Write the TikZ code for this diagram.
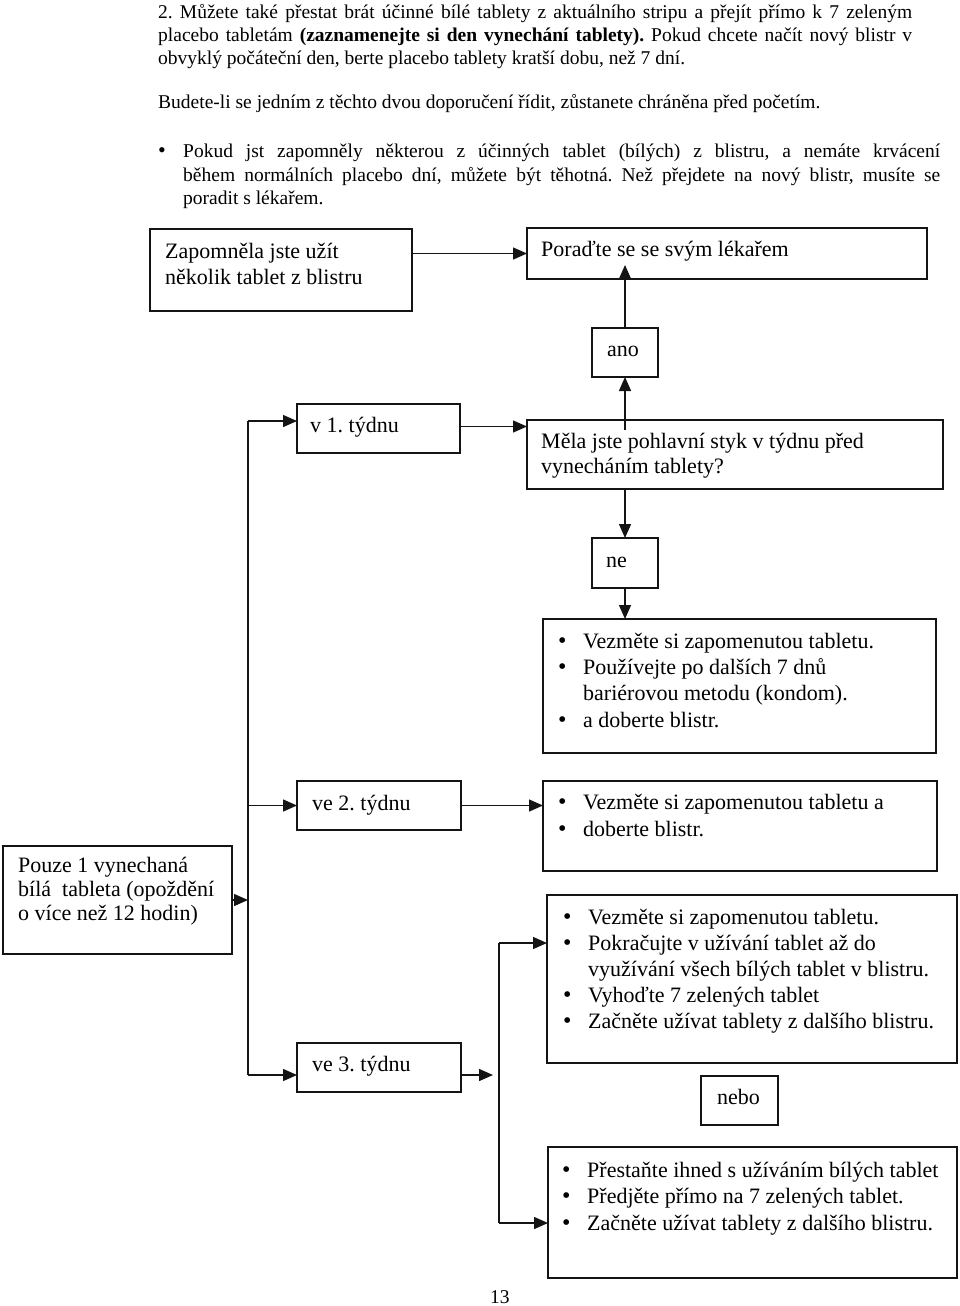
\documentclass[tikz,border=0pt]{standalone}
\usepackage{fontspec}
\setmainfont{Liberation Serif}
\usetikzlibrary{arrows.meta,calc}
\frenchspacing
\begin{document}
\begin{tikzpicture}[x=1pt,y=-1pt,
  frm/.style={draw=black!92, line width=1.8pt, anchor=north west, inner sep=0pt, outer sep=0pt},
  conn/.style={line width=1.4pt, draw=black!92},
  arr/.style={conn, -{Triangle[length=14pt,width=12pt]}},
  tx/.style={anchor=base west, inner sep=0pt, font=\fontsize{22}{26}\selectfont},
  toptx/.style={anchor=base west, inner sep=0pt, font=\fontsize{19.5}{23.5}\selectfont},
  bul/.style={anchor=base west, inner sep=0pt, font=\fontsize{24}{26}\selectfont},
]
\useasboundingbox (0,0) rectangle (960,1306);

% ---------- top text ----------
\node[toptx] (p1) at (158,19) {\hbox to 754pt{2. Můžete také přestat brát účinné bílé tablety z aktuálního stripu a přejít přímo k 7 zeleným}};
\node[toptx] (p2) at (158,42) {\hbox to 754pt{placebo tabletám \textbf{(zaznamenejte si den vynechání tablety).} Pokud chcete načít nový blistr v}};
\node[toptx] (p3) at (158,65) {obvyklý počáteční den, berte placebo tablety kratší dobu, než 7 dní.};
\node[toptx] (p4) at (158,108) {Budete-li se jedním z těchto dvou doporučení řídit, zůstanete chráněna před početím.};
\node[toptx, font=\fontsize{22}{23.5}\selectfont] (pb) at (158,157) {\textbullet};
\node[toptx] (p5) at (183,157) {\hbox to 757pt{Pokud jst zapomněly některou z~účinných tablet (bílých) z blistru, a nemáte krvácení}};
\node[toptx] (p6) at (183,181) {\hbox to 757pt{během normálních placebo dní, můžete být těhotná. Než přejdete na nový blistr, musíte se}};
\node[toptx] (p7) at (183,204) {poradit s lékařem.};

% ---------- boxes ----------
\node[frm, minimum width=262pt, minimum height=82pt] (zap) at (150,229) {};
\node[frm, minimum width=400pt, minimum height=51pt] (por) at (527,228) {};
\node[frm, minimum width=66pt, minimum height=49pt] (ano) at (592,328) {};
\node[frm, minimum width=163pt, minimum height=49pt] (v1) at (297,404) {};
\node[frm, minimum width=416pt, minimum height=69pt] (mela) at (527,420) {};
\node[frm, minimum width=66pt, minimum height=50pt] (ne) at (592,538) {};
\node[frm, minimum width=393pt, minimum height=134pt] (b3) at (543,619) {};
\node[frm, minimum width=164pt, minimum height=49pt] (ve2) at (297,781) {};
\node[frm, minimum width=394pt, minimum height=90pt] (b4) at (543,781) {};
\node[frm, minimum width=229pt, minimum height=108pt] (pouze) at (3,846) {};
\node[frm, minimum width=410pt, minimum height=168pt] (b5) at (547,895) {};
\node[frm, minimum width=164pt, minimum height=49pt] (ve3) at (297,1043) {};
\node[frm, minimum width=77pt, minimum height=49pt] (nebo) at (701,1076) {};
\node[frm, minimum width=409pt, minimum height=131pt] (b7) at (548,1147) {};

% ---------- box texts ----------
\node[tx] (tzap1) at (165,258) {Zapomněla jste užít};
\node[tx] (tzap2) at (165,284) {několik tablet z blistru};
\node[tx] (tpor) at (541,256) {Poraďte se se svým lékařem};
\node[tx] (tano) at (607,356) {ano};
\node[tx] (tv1) at (310,432) {v 1. týdnu};
\node[tx] (tmela1) at (541,448) {Měla jste pohlavní styk v týdnu před};
\node[tx] (tmela2) at (541,473) {vynecháním tablety?};
\node[tx] (tne) at (606,567) {ne};

\node[bul] (b3a) at (558,648) {\textbullet};
\node[tx] (t3a) at (583,648) {Vezměte si zapomenutou tabletu.};
\node[bul] (b3b) at (558,674) {\textbullet};
\node[tx] (t3b) at (583,674) {Používejte po dalších 7 dnů};
\node[tx] (t3c) at (583,700) {bariérovou metodu (kondom).};
\node[bul] (b3d) at (558,727) {\textbullet};
\node[tx] (t3d) at (583,727) {a doberte blistr.};

\node[tx] (tve2) at (312,810) {ve 2. týdnu};
\node[bul] (b4a) at (558,809) {\textbullet};
\node[tx] (t4a) at (583,809) {Vezměte si zapomenutou tabletu a};
\node[bul] (b4b) at (558,836) {\textbullet};
\node[tx] (t4b) at (583,836) {doberte blistr.};

\node[tx] (tpo1) at (18,872) {Pouze 1 vynechaná};
\node[tx] (tpo2) at (18,896) {bílá~ tableta (opoždění};
\node[tx] (tpo3) at (18,920) {o více než 12 hodin)};

\node[bul] (b5a) at (563,924) {\textbullet};
\node[tx] (t5a) at (588,924) {Vezměte si zapomenutou tabletu.};
\node[bul] (b5b) at (563,950) {\textbullet};
\node[tx] (t5b) at (588,950) {Pokračujte v užívání tablet až do};
\node[tx] (t5c) at (588,976) {využívání všech bílých tablet v blistru.};
\node[bul] (b5d) at (563,1002) {\textbullet};
\node[tx] (t5d) at (588,1002) {Vyhoďte 7 zelených tablet};
\node[bul] (b5e) at (563,1028) {\textbullet};
\node[tx] (t5e) at (588,1028) {Začněte užívat tablety z dalšího blistru.};

\node[tx] (tve3) at (312,1071) {ve 3. týdnu};
\node[tx] (tnebo) at (717,1104) {nebo};

\node[bul] (b7a) at (562,1177) {\textbullet};
\node[tx] (t7a) at (587,1177) {Přestaňte ihned s užíváním bílých tablet};
\node[bul] (b7b) at (562,1203) {\textbullet};
\node[tx] (t7b) at (587,1203) {Předjěte přímo na 7 zelených tablet.};
\node[bul] (b7c) at (562,1230) {\textbullet};
\node[tx] (t7c) at (587,1230) {Začněte užívat tablety z dalšího blistru.};

\node[toptx] (pg) at (490,1303) {13};

% ---------- trunk coordinates ----------
\coordinate (t1) at (248,421);
\coordinate (t2) at (248,1075);
\coordinate (s1) at (499,943);
\coordinate (s2) at (499,1223);

% ---------- connectors ----------
\draw[arr] (zap.east |- por.west) -- (por.west);
\draw[arr] (ano.north) -- ($(ano.north |- por.south)+(0,-14)$);
\draw[arr] ($(ano.south |- mela.north)+(0,10)$) -- (ano.south);
\draw[arr] ($(v1.east)+(0,-2)$) -- ($(v1.east -| mela.west)+(0,-2)$);
\draw[arr] (ne.north |- mela.south) -- (ne.north);
\draw[arr] (ne.south) -- (ne.south |- b3.north);

\draw[conn] (t1) -- (t2);
\draw[arr] (pouze.east) -- (pouze.east -| t1);
\draw[arr] (t1) -- (t1 -| v1.west);
\draw[arr] (t1 |- ve2.west) -- (ve2.west);
\draw[arr] (t2) -- (t2 -| ve3.west);
\draw[arr] (ve2.east) -- (ve2.east -| b4.west);

\draw[arr] (ve3.east |- t2) -- ($(t2 -| s1)+(-6,0)$);
\draw[conn] (s1) -- (s2);
\draw[arr] (s1) -- (s1 -| b5.west);
\draw[arr] (s2) -- (s2 -| b7.west);
\end{tikzpicture}
\end{document}
